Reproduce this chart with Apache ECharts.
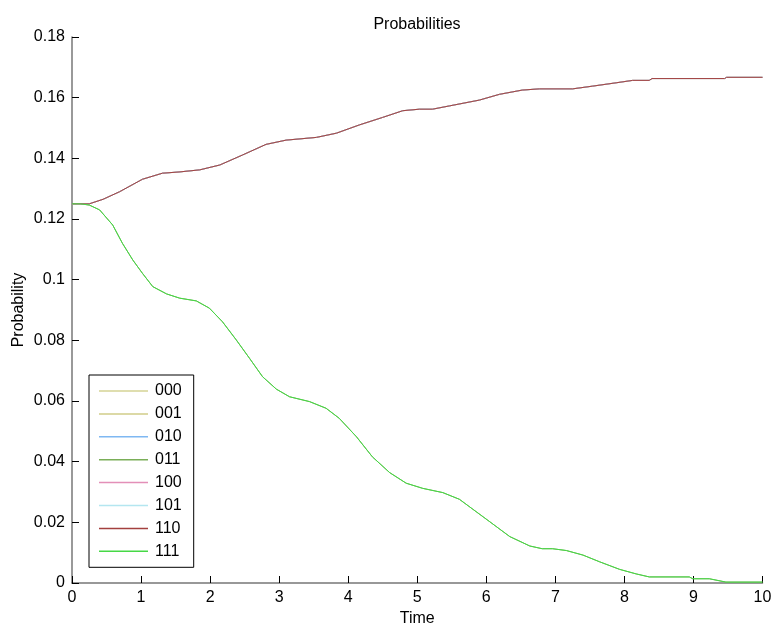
<!DOCTYPE html>
<html>
<head>
<meta charset="utf-8">
<script src="https://cdn.jsdelivr.net/npm/echarts@6/dist/echarts.min.js"></script>
<style>html,body{margin:0;padding:0;background:#fff;}#c{width:775px;height:628px;}</style>
</head>
<body>
<div id="c"></div>
<script>
var stateNames = ['000','001','010','011','100','101','110','111'];
var stateColors = ['#d4d394','#d0cd88','#7fb8f2','#7aae58','#e38fb8','#b4e6f0','#a3403f','#46d846'];
// which curve each state follows: 'top' or 'bottom'
var stateCurve = ['top','top','top','bottom','top','top','top','bottom'];

var topTimes = [0, 0.25, 0.45, 0.69, 1.02, 1.31, 1.55, 1.85, 2.14, 2.47, 2.81, 3.10, 3.54, 3.83, 4.16, 4.5, 4.79, 5.03, 5.22, 5.47, 5.9, 6.19, 6.52, 6.77, 7.25, 7.54, 7.88, 8.12, 8.36, 8.4, 9.45, 9.48, 10];
var topValues = [0.125, 0.125, 0.1265, 0.129, 0.1331, 0.1351, 0.1355, 0.1362, 0.1378, 0.1411, 0.1446, 0.1460, 0.1469, 0.1483, 0.151, 0.1535, 0.1557, 0.1562, 0.1562, 0.1573, 0.1592, 0.1611, 0.1625, 0.1629, 0.1629, 0.1638, 0.1649, 0.1657, 0.1657, 0.1663, 0.1663, 0.1667, 0.1667];

var bottomTimes = [0, 0.12, 0.25, 0.4, 0.59, 0.73, 0.88, 1.02, 1.17, 1.37, 1.56, 1.8, 1.99, 2.18, 2.38, 2.57, 2.76, 2.96, 3.15, 3.44, 3.68, 3.87, 4.12, 4.35, 4.6, 4.84, 5.08, 5.37, 5.61, 6.05, 6.34, 6.63, 6.81, 6.96, 7.16, 7.4, 7.64, 7.93, 8.17, 8.36, 8.94, 8.99, 9.23, 9.47, 10];
var bottomValues = [0.125, 0.125, 0.1246, 0.123, 0.118, 0.112, 0.1065, 0.1021, 0.0977, 0.0953, 0.0939, 0.093, 0.0906, 0.0861, 0.0801, 0.0741, 0.068, 0.0639, 0.0614, 0.0598, 0.0576, 0.0543, 0.0482, 0.0416, 0.0364, 0.0329, 0.0312, 0.0298, 0.0276, 0.0202, 0.0153, 0.0122, 0.0113, 0.0113, 0.0107, 0.0092, 0.007, 0.0045, 0.003, 0.002, 0.002, 0.0014, 0.0014, 0.0003, 0.0003];

function pairs(ts, vs){ return ts.map(function(t,i){ return [t, vs[i]]; }); }
var topData = pairs(topTimes, topValues);
var bottomData = pairs(bottomTimes, bottomValues);

var FONT = 'Liberation Sans, Arial, Helvetica, sans-serif';
var chart = echarts.init(document.getElementById('c'), null, {renderer:'canvas'});
var series = stateNames.map(function(n, i){
  return {
    name: n, type: 'line', symbol: 'none', animation: false,
    data: stateCurve[i] === 'top' ? topData : bottomData,
    lineStyle: {color: stateColors[i], width: 1},
    itemStyle: {color: stateColors[i]}
  };
});
chart.setOption({
  backgroundColor: '#fff',
  animation: false,
  title: {text: 'Probabilities', left: 412, textAlign: 'center', top: 12,
    textStyle: {fontFamily: FONT, fontSize: 16, fontWeight: 'normal', color: '#000'}},
  grid: {left: 72, right: 12.5, top: 37, bottom: 45, containLabel: false, outerBoundsMode: 'none'},
  legend: {
    orient: 'vertical', left: 89, top: 375,
    data: stateNames,
    icon: 'rect',
    borderColor: '#000', borderWidth: 1,
    padding: [8, 12, 8, 10],
    itemWidth: 49, itemHeight: 1.5, itemGap: 6.9,
    backgroundColor: '#fff',
    textStyle: {fontFamily: FONT, fontSize: 16, color: '#000', padding: [0, 0, 0, 2]}
  },
  xAxis: {
    type: 'value', min: 0, max: 10, interval: 1,
    name: 'Time', nameLocation: 'middle', nameGap: 26,
    nameTextStyle: {fontFamily: FONT, fontSize: 16, color: '#000'},
    axisLine: {show: true, lineStyle: {color: '#777', width: 1.5}},
    axisTick: {show: true, inside: true, length: 7, lineStyle: {color: '#000', width: 1}},
    axisLabel: {margin: 7, fontFamily: FONT, fontSize: 16, color: '#000'},
    splitLine: {show: false}
  },
  yAxis: {
    type: 'value', min: 0, max: 0.18, interval: 0.02,
    name: 'Probability', nameLocation: 'middle', nameGap: 45, nameMoveOverlap: false,
    nameTextStyle: {fontFamily: FONT, fontSize: 16, color: '#000'},
    axisLine: {show: true, lineStyle: {color: '#777', width: 1.5}},
    axisTick: {show: true, inside: true, length: 7, lineStyle: {color: '#000', width: 1}},
    axisLabel: {margin: 7, fontFamily: FONT, fontSize: 16, color: '#000'},
    splitLine: {show: false}
  },
  series: series
});
</script>
</body>
</html>
